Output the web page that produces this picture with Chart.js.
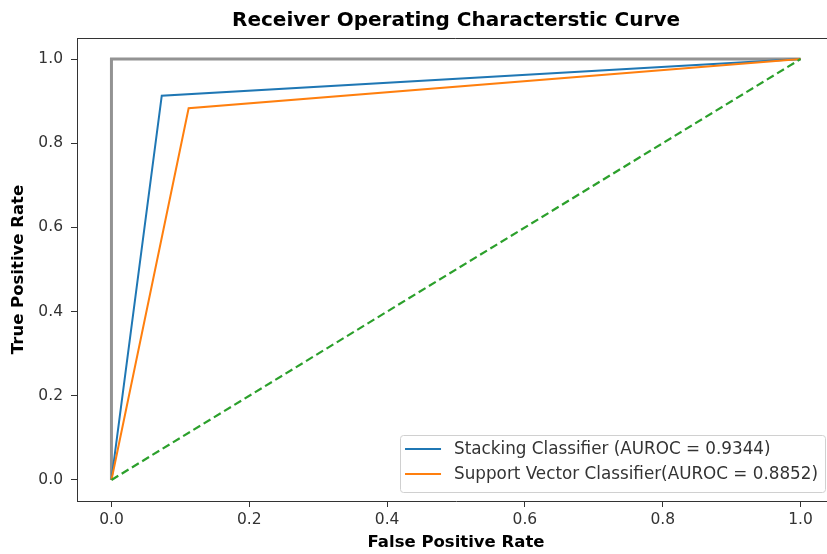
<!DOCTYPE html>
<html>
<head>
<meta charset="utf-8">
<script src="https://cdn.jsdelivr.net/npm/chart.js@4.4.1/dist/chart.umd.min.js"></script>
<style>
  html, body { margin: 0; padding: 0; background: #fff; overflow: hidden; }
  /* the figure is wider than the window, its right side is cropped like the reference */
  #wrap { width: 912px; height: 554px; position: relative; }
</style>
</head>
<body>
<div id="wrap"><canvas id="roc"></canvas></div>
<script>
// ROC points
var stackFpr = [0, 0.073, 1];
var stackTpr = [0, 0.913, 1];
var svcFpr = [0, 0.112, 1];
var svcTpr = [0, 0.883, 1];
var perfectFpr = [0, 0, 1];
var perfectTpr = [0, 1, 1];
var chanceFpr = [0, 1];
var chanceTpr = [0, 1];

var xTicks = [0, 0.2, 0.4, 0.6, 0.8, 1.0];
var yTicks = [0, 0.2, 0.4, 0.6, 0.8, 1.0];

var stackLabel = "Stacking Classifier (AUROC = 0.9344)";
var svcLabel = "Support Vector Classifier(AUROC = 0.8852)";

function toPoints(xs, ys) {
  return xs.map(function (x, i) { return { x: x, y: ys[i] }; });
}

var FONT = "'DejaVu Sans', sans-serif";
var INK = "#333";

// top/right spines, title centred over the axes and a legend box in the lower right
var extras = {
  id: "extras",
  afterLayout: function (chart) {
    if (chart.titleBlock) {
      chart.titleBlock.left = chart.chartArea.left;
      chart.titleBlock.right = chart.chartArea.right;
    }
  },
  afterDraw: function (chart) {
    var ctx = chart.ctx;
    var a = chart.chartArea;
    ctx.save();
    ctx.strokeStyle = INK;
    ctx.lineWidth = 1;
    ctx.beginPath();
    ctx.moveTo(a.left, a.top + 0.5);
    ctx.lineTo(a.right - 0.5, a.top + 0.5);
    ctx.lineTo(a.right - 0.5, a.bottom);
    ctx.stroke();

    var items = chart.data.datasets.filter(function (d) { return d.label; });
    ctx.font = "16.8px " + FONT;
    var textW = 0;
    items.forEach(function (d) { textW = Math.max(textW, ctx.measureText(d.label).width); });
    var rowH = 25;
    var w = 5 + 36 + 13 + textW + 7;
    var h = items.length * rowH + 7;
    var right = a.right - 10;
    var bottom = a.bottom - 9;
    var x = right - w;
    var y = bottom - h;
    ctx.fillStyle = "rgba(255,255,255,0.85)";
    ctx.strokeStyle = "#d0d0d0";
    ctx.beginPath();
    ctx.roundRect(x + 0.5, y + 0.5, w, h, 3);
    ctx.fill();
    ctx.stroke();
    ctx.textBaseline = "middle";
    items.forEach(function (d, i) {
      var cy = y + 14 + i * rowH;
      ctx.strokeStyle = d.borderColor;
      ctx.lineWidth = 2;
      ctx.beginPath();
      ctx.moveTo(x + 5, cy);
      ctx.lineTo(x + 41, cy);
      ctx.stroke();
      ctx.fillStyle = INK;
      ctx.fillText(d.label, x + 54, cy + 1);
    });
    ctx.restore();
  }
};

new Chart(document.getElementById("roc"), {
  type: "scatter",
  data: {
    datasets: [
      {
        data: toPoints(perfectFpr, perfectTpr),
        borderColor: "rgba(128,128,128,0.85)",
        borderWidth: 3,
        showLine: true,
        pointRadius: 0,
        order: 4
      },
      {
        label: stackLabel,
        data: toPoints(stackFpr, stackTpr),
        borderColor: "#1f77b4",
        borderWidth: 2,
        showLine: true,
        pointRadius: 0,
        order: 3
      },
      {
        label: svcLabel,
        data: toPoints(svcFpr, svcTpr),
        borderColor: "#ff7f0e",
        borderWidth: 2,
        showLine: true,
        pointRadius: 0,
        order: 2
      },
      {
        data: toPoints(chanceFpr, chanceTpr),
        borderColor: "#2ca02c",
        borderWidth: 2.2,
        borderDash: [8, 4],
        showLine: true,
        pointRadius: 0,
        order: 1
      }
    ]
  },
  options: {
    responsive: true,
    maintainAspectRatio: false,
    animation: false,
    layout: { padding: { left: 0, right: 77, top: 0, bottom: 0 } },
    plugins: {
      legend: { display: false },
      tooltip: { enabled: false },
      title: {
        display: true,
        text: "Receiver Operating Characterstic Curve",
        color: "#000",
        font: { family: FONT, size: 20, weight: "bold" },
        padding: { top: 9, bottom: 5 }
      }
    },
    scales: {
      x: {
        type: "linear",
        min: -0.05,
        max: 1.05,
        afterBuildTicks: function (s) { s.ticks = xTicks.map(function (v) { return { value: v }; }); },
        afterFit: function (s) { s.height = 53; },
        ticks: {
          color: INK,
          padding: 4,
          font: { family: FONT, size: 15.5 },
          callback: function (v) { return v.toFixed(1); }
        },
        grid: { drawOnChartArea: false, drawTicks: true, tickLength: 6, tickColor: INK },
        border: { display: true, color: INK, width: 1 },
        title: {
          display: true,
          text: "False Positive Rate",
          color: "#000",
          font: { family: FONT, size: 16.5, weight: "bold" },
          padding: { top: 0, bottom: 1 }
        }
      },
      y: {
        type: "linear",
        min: -0.05,
        max: 1.05,
        afterBuildTicks: function (s) { s.ticks = yTicks.map(function (v) { return { value: v }; }); },
        afterFit: function (s) { s.width = 77; },
        ticks: {
          color: INK,
          padding: 8,
          font: { family: FONT, size: 15.5 },
          callback: function (v) { return v.toFixed(1); }
        },
        grid: { drawOnChartArea: false, drawTicks: true, tickLength: 6, tickColor: INK },
        border: { display: true, color: INK, width: 1 },
        title: {
          display: true,
          text: "True Positive Rate",
          color: "#000",
          font: { family: FONT, size: 16.5, weight: "bold" },
          padding: { top: 9, bottom: 0 }
        }
      }
    }
  },
  plugins: [extras]
});
</script>
</body>
</html>
